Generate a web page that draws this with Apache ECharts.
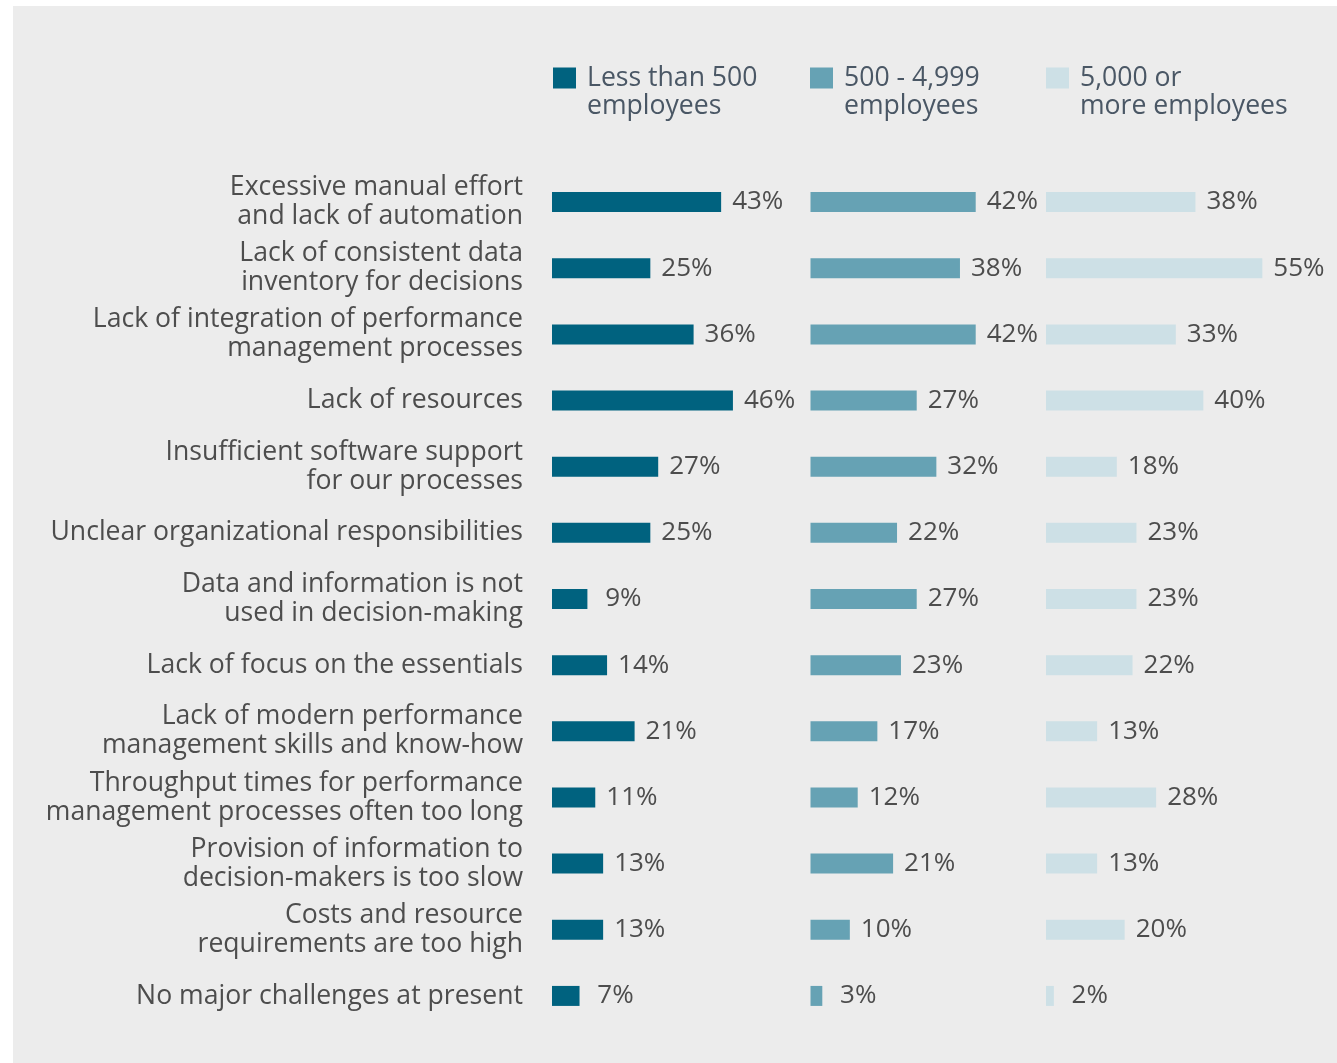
<!DOCTYPE html>
<html>
<head>
<meta charset="utf-8">
<script src="https://cdn.jsdelivr.net/npm/echarts@6/dist/echarts.min.js"></script>
<style>
  html, body { margin: 0; padding: 0; background: #fff; }
  #chart { position: absolute; left: 13px; top: 6px; width: 1324px; height: 1057px; background: #ececec; }
</style>
</head>
<body>
<div id="chart"></div>
<script>
  let categories = [
    'Excessive manual effort\nand lack of automation',
    'Lack of consistent data\ninventory for decisions',
    'Lack of integration of performance\nmanagement processes',
    'Lack of resources',
    'Insufficient software support\nfor our processes',
    'Unclear organizational responsibilities',
    'Data and information is not\nused in decision-making',
    'Lack of focus on the essentials',
    'Lack of modern performance\nmanagement skills and know-how',
    'Throughput times for performance\nmanagement processes often too long',
    'Provision of information to\ndecision-makers is too slow',
    'Costs and resource\nrequirements are too high',
    'No major challenges at present'
  ]
  let smallCompanies = [43, 25, 36, 46, 27, 25, 9, 14, 21, 11, 13, 13, 7]
  let midCompanies = [42, 38, 42, 27, 32, 22, 27, 23, 17, 12, 21, 10, 3]
  let largeCompanies = [38, 55, 33, 40, 18, 23, 23, 22, 13, 28, 13, 20, 2]
  let seriesNames = ['Less than 500 employees', '500 - 4,999 employees', '5,000 or more employees']
  let legendLabels = ['Less than 500\nemployees', '500 - 4,999\nemployees', '5,000 or\nmore employees']
  let colors = ['#00627f', '#66a2b4', '#cde0e6']

  let font = "'Open Sans', sans-serif"
  let panelLeft = [539, 797.5, 1033]
  let legendLeft = [540, 797, 1033]
  let values = [smallCompanies, midCompanies, largeCompanies]

  let chart = echarts.init(document.getElementById('chart'))

  let grids = [], xAxes = [], yAxes = [], series = [], legends = []
  values.forEach((vals, i) => {
    grids.push({
      left: panelLeft[i],
      top: 163,
      width: 236,
      height: 860,
      outerBoundsMode: 'none',
      containLabel: false
    })
    xAxes.push({
      type: 'value',
      gridIndex: i,
      min: 0,
      max: 60,
      show: false
    })
    yAxes.push({
      type: 'category',
      gridIndex: i,
      data: categories,
      inverse: true,
      axisLine: { show: false },
      axisTick: { show: false },
      splitLine: { show: false },
      axisLabel: {
        show: i === 0,
        margin: 29,
        fontFamily: font,
        fontSize: 26.6,
        lineHeight: 29,
        color: '#4d4d4d'
      }
    })
    series.push({
      name: seriesNames[i],
      type: 'bar',
      xAxisIndex: i,
      yAxisIndex: i,
      barWidth: 20,
      itemStyle: { color: colors[i] },
      label: {
        show: true,
        position: 'right',
        distance: 11,
        fontFamily: font,
        fontSize: 26,
        color: '#4d4d4d',
        formatter: p => (p.value < 10 ? ' ' : '') + p.value + '%'
      },
      data: vals
    })
    // blank first line keeps the icon level with the first text line
    legends.push({
      data: [seriesNames[i]],
      left: legendLeft[i],
      top: 30,
      padding: 0,
      icon: 'rect',
      itemWidth: 23,
      itemHeight: 21,
      selectedMode: false,
      formatter: () => '\n' + legendLabels[i],
      textStyle: {
        fontFamily: font,
        fontSize: 26.6,
        lineHeight: 28,
        color: '#4a5765',
        padding: [0, 0, 0, 6]
      }
    })
  })

  chart.setOption({
    animation: false,
    backgroundColor: 'transparent',
    legend: legends,
    grid: grids,
    xAxis: xAxes,
    yAxis: yAxes,
    series: series
  })
</script>
</body>
</html>
